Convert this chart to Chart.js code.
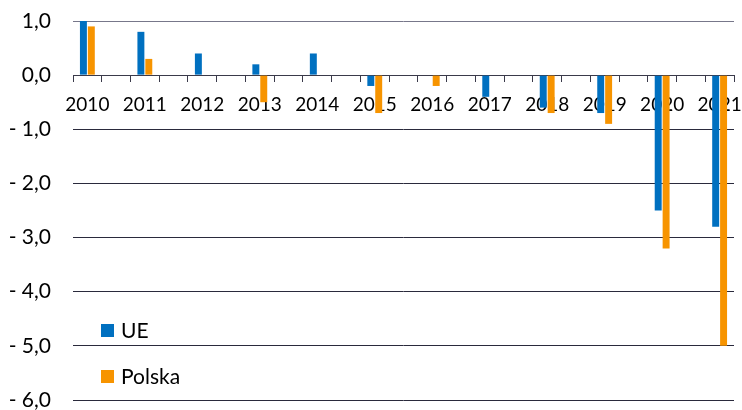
<!DOCTYPE html>
<html>
<head>
<meta charset="utf-8">
<script src="https://cdn.jsdelivr.net/npm/chart.js@4"></script>
<style>
  html, body { margin: 0; padding: 0; background: #fff; }
  #wrap { position: relative; width: 742px; height: 410px; }
  #legend { position: absolute; left: 101px; top: 314px; font-family: Lato, "Open Sans", sans-serif; font-size: 21px; color: #000; }
  .item { position: absolute; left: 0; white-space: nowrap; height: 26px; line-height: 26px; }
  .sw { display: inline-block; width: 13px; height: 13px; vertical-align: middle; margin-right: 7px; position: relative; top: -2px; }
</style>
</head>
<body>
<div id="wrap">
  <canvas id="c" width="742" height="410"></canvas>
  <div id="legend">
    <div class="item" style="top:3px"><span class="sw" style="background:#0070C0"></span>UE</div>
    <div class="item" style="top:49px"><span class="sw" style="background:#F79400"></span>Polska</div>
  </div>
</div>
<script>
const years = ['2010','2011','2012','2013','2014','2015','2016','2017','2018','2019','2020','2021'];
const ue     = [1.0, 0.8, 0.4, 0.2, 0.4, -0.2, 0.0, -0.4, -0.6, -0.7, -2.5, -2.8];
const polska = [0.9, 0.3, 0.0, -0.5, 0.0, -0.7, -0.2, 0.0, -0.7, -0.9, -3.2, -5.0];
const yTicks = [1, 0, -1, -2, -3, -4, -5, -6];

// Interleave empty slots between years (as in the source spreadsheet)
const labels = [], ueData = [], plData = [];
years.forEach((y, i) => {
  labels.push(y); ueData.push(ue[i]); plData.push(polska[i]);
  if (i < years.length - 1) { labels.push(''); ueData.push(null); plData.push(null); }
});

function fmt(v) {
  const s = Math.abs(v).toFixed(1).replace('.', ',');
  return v < 0 ? '- ' + s : s;
}

const FONT = 'Lato, "Open Sans", sans-serif';

new Chart(document.getElementById('c'), {
  type: 'bar',
  data: {
    labels: labels,
    datasets: [
      { label: 'UE', data: ueData, backgroundColor: '#0070C0', categoryPercentage: 0.55, barPercentage: 0.88 },
      { label: 'Polska', data: plData, backgroundColor: '#F79400', categoryPercentage: 0.55, barPercentage: 0.88 }
    ]
  },
  options: {
    responsive: false,
    animation: false,
    layout: { padding: { top: 21, right: 8, left: 0, bottom: 10 } },
    plugins: { legend: { display: false }, tooltip: { enabled: false } },
    scales: {
      x: {
        position: { y: 0 },
        afterFit: s => { s.paddingLeft = 0; s.paddingRight = 0; },
        grid: { drawOnChartArea: false, drawTicks: true, tickLength: 6, offset: true, color: '#3a3a4a' },
        border: { display: true, color: '#3a3a4a', width: 1 },
        ticks: { autoSkip: false, maxRotation: 0, minRotation: 0, padding: 12, color: '#000', font: { family: FONT, size: 19 } }
      },
      y: {
        min: -6, max: 1,
        afterBuildTicks: s => { s.ticks = yTicks.map(v => ({ value: v })); },
        afterFit: s => { s.width = 73; },
        grid: { drawTicks: true, tickLength: 22, tickColor: 'rgba(0,0,0,0)', color: ctx => ctx.tick && ctx.tick.value === 1 ? '#77778a' : '#2a2a3c' },
        border: { display: false },
        ticks: { padding: 0, color: '#000', font: { family: FONT, size: 21, lineHeight: 0.9 }, callback: v => fmt(v) }
      }
    }
  }
});
</script>
</body>
</html>
